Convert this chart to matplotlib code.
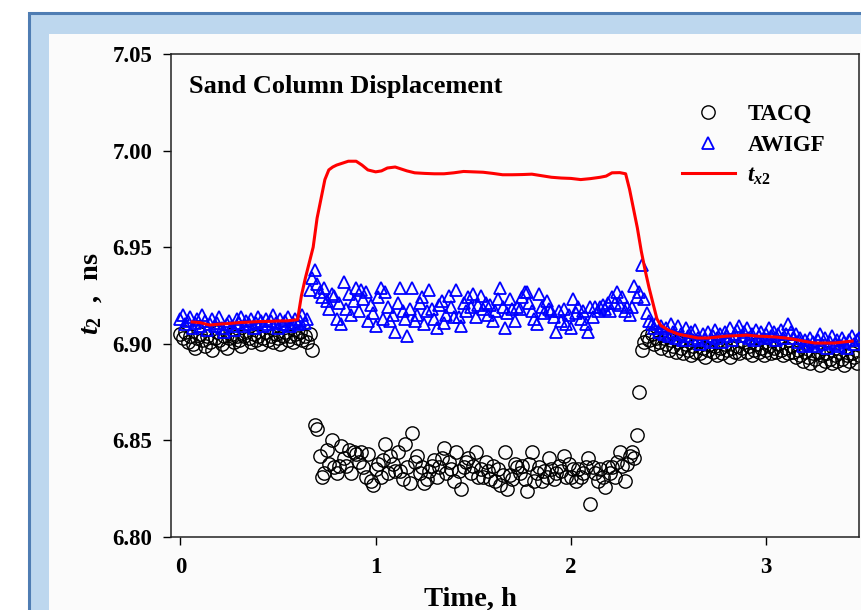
import numpy as np
import matplotlib
matplotlib.use("Agg")
import matplotlib.pyplot as plt
from matplotlib.patches import Rectangle
from matplotlib.lines import Line2D

plt.rcParams['font.family'] = ['Liberation Serif', 'DejaVu Serif']
plt.rcParams['font.weight'] = 'bold'
plt.rcParams['mathtext.fontset'] = 'custom'
plt.rcParams['mathtext.rm'] = 'Liberation Serif:bold'
plt.rcParams['mathtext.bf'] = 'Liberation Serif:bold'
plt.rcParams['mathtext.it'] = 'Liberation Serif:bold:italic'

# ---------------- data ----------------
sample_interval_h = 0.0125  # time between measurements, h

tacq_before = [
    6.905, 6.903, 6.906, 6.901, 6.904, 6.900, 6.898, 6.903, 6.905, 6.902,
    6.899, 6.904, 6.901, 6.897, 6.903, 6.906, 6.902, 6.900, 6.904, 6.898,
    6.903, 6.905, 6.901, 6.904, 6.902, 6.899, 6.904, 6.906, 6.903, 6.901,
    6.905, 6.902, 6.904, 6.900, 6.903, 6.906, 6.902, 6.904, 6.901, 6.905,
    6.903, 6.900, 6.904, 6.906, 6.902, 6.904, 6.901, 6.905, 6.903, 6.906,
    6.902, 6.904, 6.901, 6.905, 6.897,
]
tacq_displaced = [
    6.858, 6.856, 6.842, 6.831, 6.833, 6.845, 6.838, 6.850, 6.836, 6.833,
    6.837, 6.847, 6.841, 6.837, 6.845, 6.833, 6.844, 6.843, 6.839, 6.844,
    6.836, 6.831, 6.843, 6.829, 6.827, 6.835, 6.838, 6.831, 6.840, 6.848,
    6.833, 6.842, 6.838, 6.834, 6.844, 6.834, 6.830, 6.848, 6.836, 6.828,
    6.854, 6.839, 6.842, 6.833, 6.836, 6.828, 6.830, 6.834, 6.837, 6.840,
    6.831, 6.836, 6.841, 6.846, 6.833, 6.839, 6.835, 6.829, 6.844, 6.834,
    6.825, 6.836, 6.839, 6.841, 6.833, 6.837, 6.844, 6.831, 6.835, 6.831,
    6.839, 6.834, 6.830, 6.837, 6.829, 6.835, 6.827, 6.832, 6.844, 6.825,
    6.832, 6.830, 6.838, 6.836, 6.833, 6.837, 6.830, 6.824, 6.838, 6.844,
    6.829, 6.833, 6.836, 6.829, 6.834, 6.831, 6.841, 6.835, 6.830, 6.833,
    6.837, 6.834, 6.842, 6.831, 6.838, 6.831, 6.835, 6.829, 6.835, 6.831,
    6.833, 6.836, 6.841, 6.817, 6.836, 6.833, 6.829, 6.835, 6.831, 6.826,
    6.836, 6.833, 6.836, 6.831, 6.839, 6.844, 6.837, 6.829, 6.838, 6.842,
    6.844, 6.841, 6.853,
]
tacq_after = [
    6.875, 6.897, 6.901, 6.904, 6.902, 6.905, 6.900, 6.903, 6.901, 6.898,
    6.903, 6.900, 6.897, 6.902, 6.899, 6.896, 6.901, 6.898, 6.895, 6.900,
    6.897, 6.894, 6.899, 6.896, 6.901, 6.895, 6.898, 6.893, 6.897, 6.900,
    6.896, 6.899, 6.894, 6.898, 6.895, 6.900, 6.897, 6.893, 6.898, 6.896,
    6.899, 6.895, 6.898, 6.901, 6.896, 6.899, 6.894, 6.897, 6.900, 6.896,
    6.898, 6.894, 6.897, 6.899, 6.895, 6.898, 6.896, 6.900, 6.897, 6.894,
    6.898, 6.895, 6.899, 6.896, 6.893, 6.897, 6.894, 6.891, 6.896, 6.893,
    6.890, 6.895, 6.892, 6.896, 6.889, 6.894, 6.891, 6.895, 6.892, 6.890,
    6.894, 6.891, 6.896, 6.892, 6.889, 6.894, 6.891, 6.895, 6.893, 6.890,
    6.894,
]

awigf_before = [
    6.913, 6.915, 6.910, 6.912, 6.914, 6.908, 6.911, 6.913, 6.909, 6.915,
    6.912, 6.907, 6.910, 6.913, 6.909, 6.911, 6.914, 6.908, 6.906, 6.910,
    6.912, 6.909, 6.907, 6.913, 6.911, 6.914, 6.909, 6.912, 6.910, 6.913,
    6.908, 6.911, 6.914, 6.912, 6.909, 6.913, 6.910, 6.912, 6.915, 6.911,
    6.908, 6.913, 6.910, 6.912, 6.914, 6.909, 6.911, 6.913, 6.910, 6.912,
    6.915, 6.911, 6.913,
]
awigf_displaced = [
    6.928, 6.934, 6.938, 6.931, 6.927, 6.924, 6.929, 6.922, 6.918, 6.926,
    6.925, 6.913, 6.921, 6.910, 6.932, 6.918, 6.926, 6.915, 6.922, 6.929,
    6.917, 6.928, 6.923, 6.927, 6.912, 6.920, 6.916, 6.909, 6.924, 6.929,
    6.913, 6.927, 6.919, 6.912, 6.915, 6.906, 6.921, 6.929, 6.917, 6.913,
    6.904, 6.918, 6.929, 6.912, 6.915, 6.921, 6.924, 6.910, 6.917, 6.928,
    6.918, 6.913, 6.908, 6.920, 6.922, 6.911, 6.915, 6.925, 6.919, 6.914,
    6.928, 6.914, 6.909, 6.921, 6.917, 6.924, 6.919, 6.926, 6.914, 6.920,
    6.925, 6.918, 6.921, 6.915, 6.920, 6.912, 6.917, 6.923, 6.929, 6.919,
    6.908, 6.916, 6.923, 6.918, 6.912, 6.919, 6.918, 6.924, 6.927, 6.927,
    6.921, 6.917, 6.913, 6.910, 6.926, 6.919, 6.916, 6.922, 6.918, 6.917,
    6.914, 6.906, 6.917, 6.912, 6.918, 6.910, 6.915, 6.908, 6.923, 6.916,
    6.919, 6.913, 6.917, 6.910, 6.906, 6.919, 6.914, 6.919, 6.917, 6.919,
    6.920, 6.918, 6.921, 6.917, 6.924, 6.921, 6.927, 6.920, 6.924, 6.917,
    6.919, 6.915, 6.919, 6.930, 6.924, 6.927,
]
awigf_after = [
    6.941, 6.923, 6.916, 6.912, 6.910, 6.908, 6.911, 6.906, 6.909, 6.905,
    6.908, 6.904, 6.910, 6.906, 6.903, 6.909, 6.905, 6.902, 6.908, 6.904,
    6.906, 6.902, 6.907, 6.903, 6.900, 6.905, 6.902, 6.906, 6.901, 6.904,
    6.907, 6.903, 6.905, 6.901, 6.906, 6.904, 6.908, 6.902, 6.905, 6.907,
    6.909, 6.904, 6.906, 6.908, 6.903, 6.905, 6.902, 6.907, 6.904, 6.906,
    6.903, 6.905, 6.908, 6.904, 6.906, 6.902, 6.905, 6.907, 6.903, 6.905,
    6.910, 6.906, 6.903, 6.905, 6.901, 6.903, 6.899, 6.902, 6.900, 6.903,
    6.901, 6.899, 6.902, 6.905, 6.900, 6.903, 6.898, 6.901, 6.904, 6.900,
    6.902, 6.899, 6.903, 6.901, 6.898, 6.902, 6.904, 6.900, 6.902, 6.903,
]

tx2_time = [
    0.06, 0.10, 0.15, 0.20, 0.25, 0.30, 0.35, 0.40, 0.45, 0.50, 0.55, 0.60,
    0.62, 0.64, 0.66, 0.68, 0.70, 0.72, 0.74, 0.76, 0.78, 0.80, 0.83, 0.86,
    0.90, 0.93, 0.96, 1.00, 1.03, 1.06, 1.10, 1.13, 1.16, 1.20, 1.25, 1.30,
    1.35, 1.40, 1.45, 1.50, 1.55, 1.60, 1.65, 1.70, 1.75, 1.80, 1.85, 1.90,
    1.95, 2.00, 2.05, 2.10, 2.15, 2.18, 2.21, 2.25, 2.28, 2.30, 2.32, 2.34,
    2.36, 2.38, 2.40, 2.42, 2.44, 2.46, 2.50, 2.55, 2.60, 2.65, 2.70, 2.75,
    2.80, 2.85, 2.90, 2.95, 3.00, 3.05, 3.10, 3.15, 3.20, 3.25, 3.30, 3.35,
    3.40, 3.44,
]
tx2_values = [
    6.9113, 6.9110, 6.9097, 6.9102, 6.9105, 6.9110, 6.9112, 6.9115, 6.9116, 6.9118, 6.9119, 6.9125,
    6.9250, 6.9340, 6.9420, 6.9500, 6.9650, 6.9750, 6.9850, 6.9900, 6.9915, 6.9925, 6.9935, 6.9945,
    6.9945, 6.9925, 6.9900, 6.9890, 6.9895, 6.9910, 6.9915, 6.9905, 6.9895, 6.9885, 6.9882, 6.9880,
    6.9880, 6.9885, 6.9892, 6.9890, 6.9888, 6.9882, 6.9875, 6.9875, 6.9876, 6.9878, 6.9870, 6.9862,
    6.9858, 6.9856, 6.9850, 6.9855, 6.9862, 6.9868, 6.9885, 6.9886, 6.9880, 6.9800, 6.9700, 6.9600,
    6.9480, 6.9380, 6.9290, 6.9210, 6.9130, 6.9095, 6.9070, 6.9050, 6.9040, 6.9030, 6.9030, 6.9035,
    6.9040, 6.9042, 6.9045, 6.9040, 6.9038, 6.9035, 6.9030, 6.9022, 6.9012, 6.9004, 6.9004, 6.9004,
    6.9010, 6.9014,
]

x_ticks = [0, 1, 2, 3]
y_ticks = [6.80, 6.85, 6.90, 6.95, 7.00, 7.05]
title_text = 'Sand Column Displacement'
legend_labels = ['TACQ', 'AWIGF', r'$t_{x\mathit{2}}$']

tacq = tacq_before + tacq_displaced + tacq_after
awigf = awigf_before + awigf_displaced + awigf_after
t_tacq = np.arange(len(tacq)) * sample_interval_h
t_awigf = np.arange(len(awigf)) * sample_interval_h

# ---------------- figure ----------------
W, H = 862, 610
fig = plt.figure(figsize=(W / 100, H / 100), dpi=100)
fig.patch.set_facecolor('white')

def fx(px):
    return px / W

def fy(py):
    return 1 - py / H

FS = 16.5
FS_TITLE = 19
FS_LABEL = 20.5

# outer light-blue frame with darker border
fig.patches.append(Rectangle((fx(29.5), fy(700)), fx(900), fy(13) - fy(700),
                             transform=fig.transFigure, facecolor='#bdd7ee',
                             edgecolor='#4f7db3', linewidth=2.2, zorder=-2))
# inner white panel
fig.patches.append(Rectangle((fx(49), fy(700)), fx(900), fy(33.5) - fy(700),
                             transform=fig.transFigure, facecolor='#fbfbfb',
                             edgecolor='none', zorder=-1))

ax_l, ax_r, ax_t, ax_b = 171, 859, 54, 537
ax = fig.add_axes([fx(ax_l), fy(ax_b), fx(ax_r - ax_l), fy(ax_t) - fy(ax_b)])
ax.set_zorder(3)
ax.set_facecolor('none')

ax.plot(t_tacq, tacq, linestyle='none', marker='o', markersize=9.6,
        markerfacecolor='none', markeredgecolor='black', markeredgewidth=1.0,
        zorder=2)
ax.plot(t_awigf, awigf, linestyle='none', marker='^', markersize=8.4,
        markerfacecolor='none', markeredgecolor='#0000ff', markeredgewidth=1.3,
        zorder=3)
ax.plot(tx2_time, tx2_values, color='#ff0000', linewidth=2.2, zorder=4)

ax.set_xlim(-0.048, 3.475)
ax.set_ylim(6.80, 7.05)
ax.set_xticks(x_ticks)
ax.set_xticklabels([str(v) for v in x_ticks])
ax.set_yticks(y_ticks)
ax.set_yticklabels([f'{v:.2f}' for v in y_ticks])
ax.tick_params(axis='both', direction='out', length=5.5, width=1.0,
               labelsize=FS, colors='black')
ax.tick_params(axis='x', pad=9)
ax.tick_params(axis='y', pad=8)
for lab in ax.get_xticklabels() + ax.get_yticklabels():
    lab.set_fontweight('bold')
for s in ax.spines.values():
    s.set_linewidth(1.1)
    s.set_color('#222222')

ax.text((189 - ax_l) / (ax_r - ax_l), 1 - (87 - ax_t) / (ax_b - ax_t), title_text,
        transform=ax.transAxes, ha='left', va='center', fontsize=FS_TITLE, fontweight='bold')

ax.text((470 - ax_l) / (ax_r - ax_l), -(599 - ax_b) / (ax_b - ax_t), 'Time, h',
        transform=ax.transAxes, ha='center', va='center', fontsize=FS_LABEL, fontweight='bold')

fig.text(fx(92), fy(294), r'$t_2$  ,  ns', rotation=90, ha='center', va='center',
         fontsize=FS_LABEL, fontweight='bold')

handles = [
    Line2D([], [], linestyle='none', marker='o', markersize=9.6, markerfacecolor='none',
           markeredgecolor='black', markeredgewidth=1.0),
    Line2D([], [], linestyle='none', marker='^', markersize=8.4, markerfacecolor='none',
           markeredgecolor='#0000ff', markeredgewidth=1.3),
    Line2D([], [], color='#ff0000', linewidth=2.2),
]
leg = fig.legend(handles, legend_labels, loc='upper left',
                 bbox_to_anchor=(fx(682), fy(104)), bbox_transform=fig.transFigure,
                 frameon=False, fontsize=FS, handlelength=2.3, handletextpad=0.55,
                 labelspacing=0.42, borderpad=0, borderaxespad=0)
leg.set_zorder(5)
for txt in leg.get_texts():
    txt.set_fontweight('bold')

fig.savefig('out.png', dpi=100)
